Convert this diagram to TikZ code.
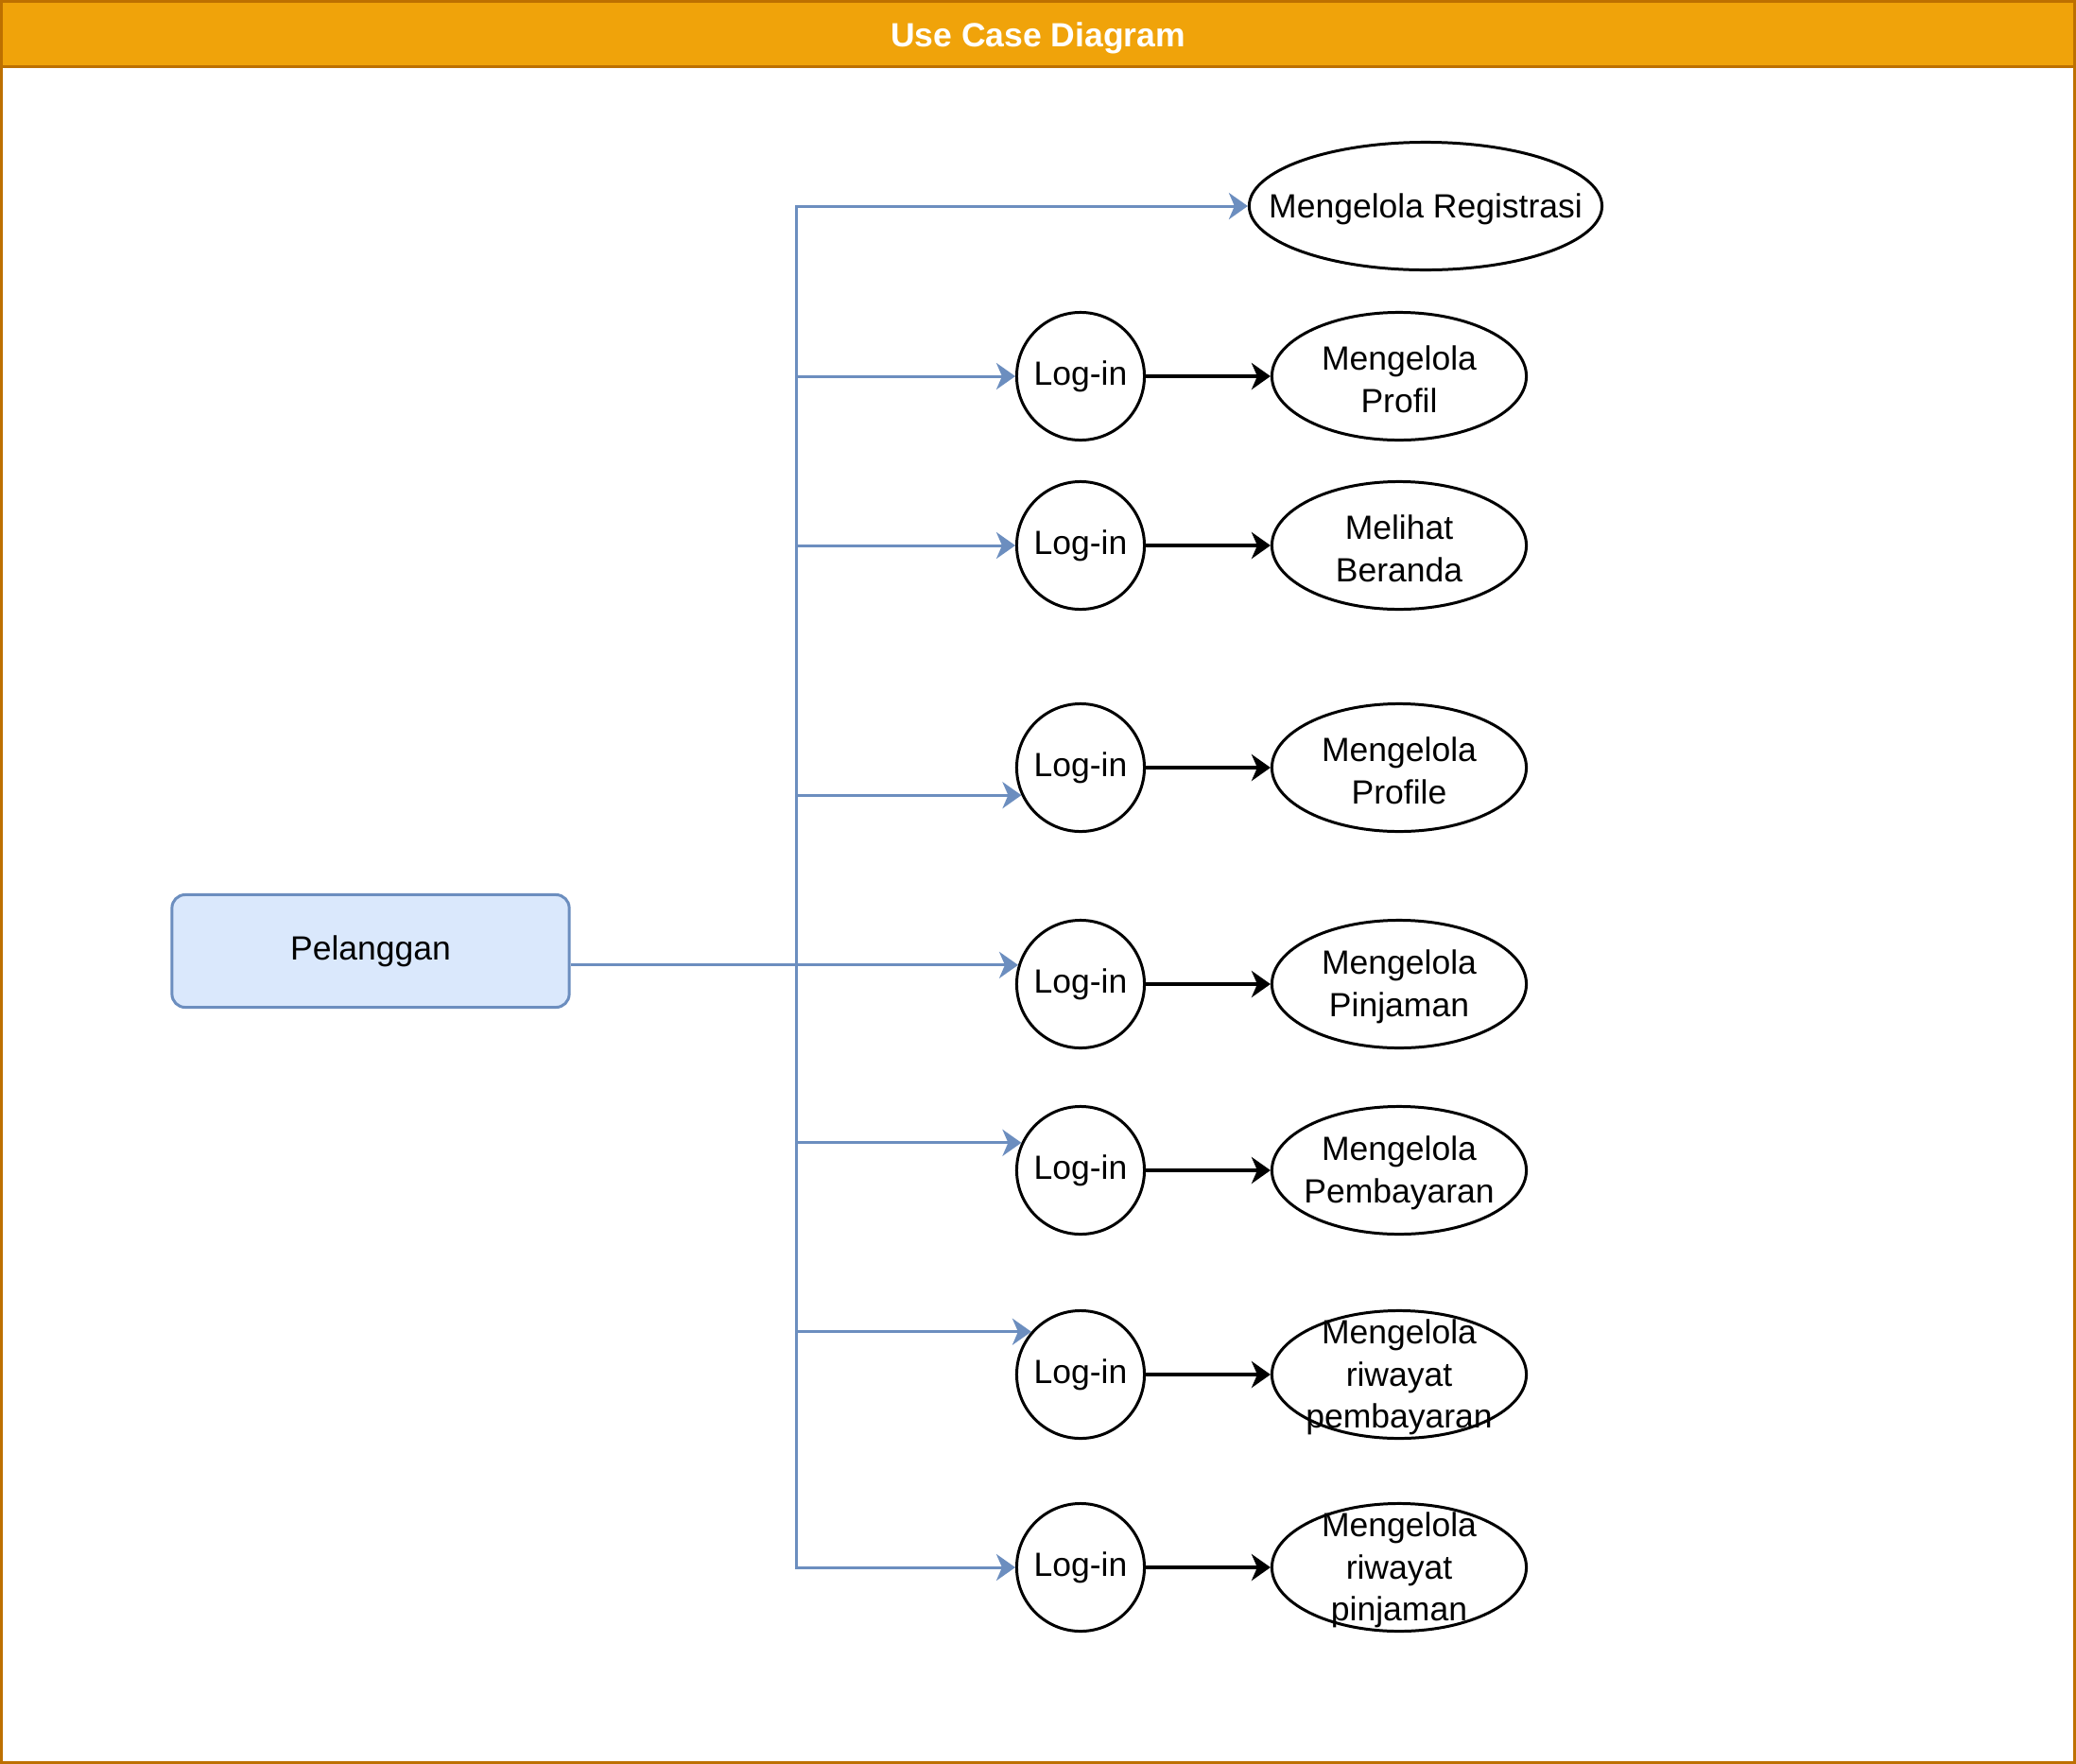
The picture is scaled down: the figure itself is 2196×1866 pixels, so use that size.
\documentclass[tikz,border=0pt]{standalone}
\usepackage{fontspec}
\setmainfont{Liberation Sans}
\usetikzlibrary{shapes.geometric,arrows.meta}
\definecolor{titlefill}{HTML}{F0A30A}
\definecolor{titleline}{HTML}{BD7000}
\definecolor{actline}{HTML}{6C8EBF}
\definecolor{actfill}{HTML}{DAE8FC}

\begin{document}
\begin{tikzpicture}[
  x=0.01cm, y=-0.01cm,
  font=\fontsize{10.1}{12.7}\selectfont,
  actor/.style={draw=actline,fill=actfill,rounded corners=0.14cm,line width=0.85pt,minimum width=4.2cm,minimum height=1.19cm},
  login/.style={circle,draw,line width=0.85pt,minimum size=1.35cm,inner sep=0pt},
  usecase/.style={ellipse,draw,line width=0.85pt,minimum width=2.69cm,minimum height=1.35cm,inner sep=0pt},
  ucname/.style={align=center,inner sep=0pt,yshift=-0.03cm},
  assoc/.style={draw=actline,line width=0.85pt,-{Stealth[length=0.2cm,width=0.28cm,inset=0.06cm]}},
  incl/.style={line width=1.1pt,-{Stealth[length=0.2cm,width=0.28cm,inset=0.06cm]}}
]
  \useasboundingbox (0,0) rectangle (2196,1866);
  % frame and title
  \draw[titleline,line width=0.03cm] (1.5,1.5) rectangle (2194.5,1864.5);
  \draw[titleline,fill=titlefill,line width=0.03cm] (1.5,1.5) rectangle (2194.5,70);
  \node[text=white,font=\fontsize{10.1}{12}\selectfont\bfseries] (title) at (1098,40) {Use Case Diagram};

  \node[actor] (pel) at (392,1006) {Pelanggan};

  \node[usecase,minimum width=3.73cm] (reg) at (1508,218) {};
  \node[ucname] (regt) at (reg) {Mengelola Registrasi};

  \node[login] (l1) at (1143,398) {Log-in};
  \node[login] (l2) at (1143,577) {Log-in};
  \node[login] (l3) at (1143,812) {Log-in};
  \node[login] (l4) at (1143,1041) {Log-in};
  \node[login] (l5) at (1143,1238) {Log-in};
  \node[login] (l6) at (1143,1454) {Log-in};
  \node[login] (l7) at (1143,1658) {Log-in};

  \node[usecase] (u1) at (1480,398) {};
  \node[usecase] (u2) at (1480,577) {};
  \node[usecase] (u3) at (1480,812) {};
  \node[usecase] (u4) at (1480,1041) {};
  \node[usecase] (u5) at (1480,1238) {};
  \node[usecase] (u6) at (1480,1454) {};
  \node[usecase] (u7) at (1480,1658) {};
  \node[ucname] (u1t) at (u1) {Mengelola\\Profil};
  \node[ucname] (u2t) at (u2) {Melihat\\Beranda};
  \node[ucname] (u3t) at (u3) {Mengelola\\Profile};
  \node[ucname] (u4t) at (u4) {Mengelola\\Pinjaman};
  \node[ucname] (u5t) at (u5) {Mengelola\\Pembayaran};
  \node[ucname] (u6t) at (u6) {Mengelola\\riwayat\\pembayaran};
  \node[ucname] (u7t) at (u7) {Mengelola\\riwayat\\pinjaman};

  % actor to log-in
  \coordinate (tr) at (842,0);
  \coordinate (jn) at (tr |- l4.163);
  \draw[assoc] (pel.east |- l4.163) -- (l4.163);
  \draw[assoc] (jn) |- (reg);
  \draw[assoc] (jn) |- (l1);
  \draw[assoc] (jn) |- (l2);
  \draw[assoc] (jn) |- (l3.205);
  \draw[assoc] (jn) |- (l5.155);
  \draw[assoc] (jn) |- (l6.139);
  \draw[assoc] (jn) |- (l7);

  % log-in to use case
  \draw[incl] (l1) -- (u1);
  \draw[incl] (l2) -- (u2);
  \draw[incl] (l3) -- (u3);
  \draw[incl] (l4) -- (u4);
  \draw[incl] (l5) -- (u5);
  \draw[incl] (l6) -- (u6);
  \draw[incl] (l7) -- (u7);
\end{tikzpicture}
\end{document}
